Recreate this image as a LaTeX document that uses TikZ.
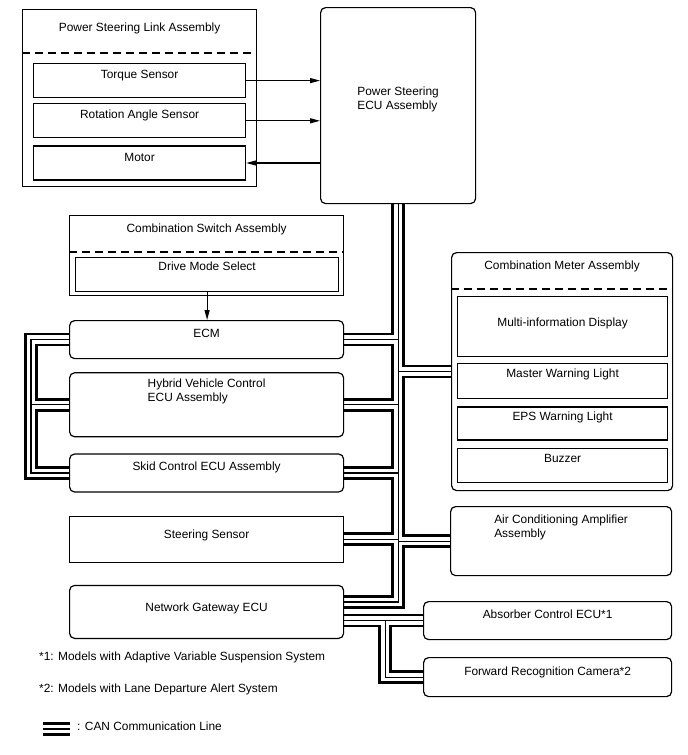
\documentclass[tikz,border=0pt]{standalone}
\usepackage{fontspec}
\setmainfont{Liberation Sans}
\usetikzlibrary{positioning,arrows.meta,calc,backgrounds}

\newcommand{\twolines}[2]{\begin{tabular}[t]{@{}l@{}}#1\\#2\end{tabular}}

\begin{document}
\begin{tikzpicture}[
  x=1pt, y=-1pt,
  font=\fontsize{11.9}{14}\selectfont,
  box/.style={rectangle, draw, line width=1.2pt, inner xsep=2pt, inner ysep=0pt, anchor=north west},
  rbox/.style={box, rounded corners=5pt},
  sz/.style n args={3}{minimum width=#1pt, text height=#2pt, text depth=#3pt},
  sep/.style={dash pattern=on 8pt off 5pt, line width=1.2pt},
  arrow/.style={-{Triangle[length=10pt, width=5pt]}, line width=1.2pt},
  note/.style={anchor=base west, inner sep=0pt},
]
\useasboundingbox (0,0) rectangle (688,755);

% Power steering link (top left)
\node[box, sz={234}{22}{155}] (psla) at (22,9) {Power Steering Link Assembly};
\node[box, sz={212}{15}{19}] (ts) at (33,63) {Torque Sensor};
\node[box, sz={212}{15}{19}, below=5pt of ts] (ras) {Rotation Angle Sensor};
\node[box, sz={212}{15}{19}, below=7pt of ras] (mot) {Motor};
\draw[sep] ($(psla.north west)+(0,44)$) -- ($(psla.north east)+(0,44)$);

% Power steering ECU
\node[rbox, sz={155}{88}{108}] (psecu) at (320,7) {\twolines{Power Steering}{ECU Assembly}};

% Combination switch
\node[box, sz={274}{17}{63}] (csa) at (69,215) {Combination Switch Assembly};
\node[box, sz={263}{13}{21}] (dms) at (75,257) {Drive Mode Select};
\draw[sep] ($(csa.north west)+(0,37)$) -- ($(csa.north east)+(0,37)$);

% ECUs on the left
\node[rbox, sz={274}{17}{21}] (ecm) at (69,320) {ECM};
\node[rbox, sz={274}{15}{49}, below=13pt of ecm] (hv) {\twolines{Hybrid Vehicle Control}{ECU Assembly}};
\node[rbox, sz={274}{16}{22}, below=16pt of hv] (skid) {Skid Control ECU Assembly};
\node[box, sz={274}{22}{24}, below=23pt of skid] (ss) {Steering Sensor};
\node[rbox, sz={274}{26}{27}, below=22pt of ss] (gw) {Network Gateway ECU};

% Combination meter
\node[rbox, sz={221}{17}{221}] (cma) at (451,252) {Combination Meter Assembly};
\node[box, sz={210}{30}{30}] (mid) at (457,296) {Multi-information Display};
\node[box, sz={210}{14}{21}, below=6pt of mid] (mwl) {Master Warning Light};
\node[box, sz={210}{13}{20}, below=7pt of mwl] (epsw) {EPS Warning Light};
\node[box, sz={210}{14}{20}, below=7pt of epsw] (buz) {Buzzer};
\draw[sep] ($(cma.north west)+(0,37)$) -- ($(cma.north east)+(0,37)$);

% ECUs on the right
\node[rbox, sz={221}{17}{52}] (ac) at (450,506) {\twolines{Air Conditioning Amplifier}{Assembly}};
\node[rbox, sz={248}{17}{21}] (abs) at (423,601) {Absorber Control ECU*1};
\node[rbox, sz={248}{18}{21}] (cam) at (423,657) {Forward Recognition Camera*2};

% Notes and legend
\node[note] (n1) at (39,660) {*1: Models with Adaptive Variable Suspension System};
\node[note] (n2) at (39,692) {*2: Models with Lane Departure Alert System};
\node[note] (leg) at (77,730) {: CAN Communication Line};

% Signal lines
\draw[arrow] (ts.east) -- (ts.east -| psecu.west);
\draw[arrow] (ras.east) -- (ras.east -| psecu.west);
\draw[arrow] (mot.east -| psecu.west) -- (mot.east);
\draw[arrow] (dms.south) -- (dms.south |- ecm.north);

% CAN lines (outer, gap, centre)
\coordinate (gwin) at ($(gw.east)+(0,-10)$);
\coordinate (cj) at ($(gw.east |- abs.west)+(41,0)$);
\begin{scope}[on background layer]
\foreach \w/\c in {13.5/black, 8.5/white, 1.2/black} {
  \draw[line width=\w pt, \c] (psecu.south) -- (psecu.south |- gwin) -- (gwin);
  \draw[line width=\w pt, \c] (ecm.east) -- (ecm.east -| psecu.south);
  \draw[line width=\w pt, \c] (hv.east) -- (hv.east -| psecu.south);
  \draw[line width=\w pt, \c] (skid.east) -- (skid.east -| psecu.south);
  \draw[line width=\w pt, \c] (ss.east) -- (ss.east -| psecu.south);
  \draw[line width=\w pt, \c] (cma.west) -- (cma.west -| psecu.south);
  \draw[line width=\w pt, \c] (ac.west) -- (ac.west -| psecu.south);
  \draw[line width=\w pt, \c] (gw.east |- abs.west) -- (abs.west);
  \draw[line width=\w pt, \c] (cj) |- (cam.west);
  \draw[line width=\w pt, \c] (ecm.west) -- ++(-38,0) |- (skid.west);
  \draw[line width=\w pt, \c] (hv.west) -- ++(-38,0);
  \draw[line width=\w pt, \c] (43,729) -- (70,729);
}
\end{scope}

\end{tikzpicture}
\end{document}
